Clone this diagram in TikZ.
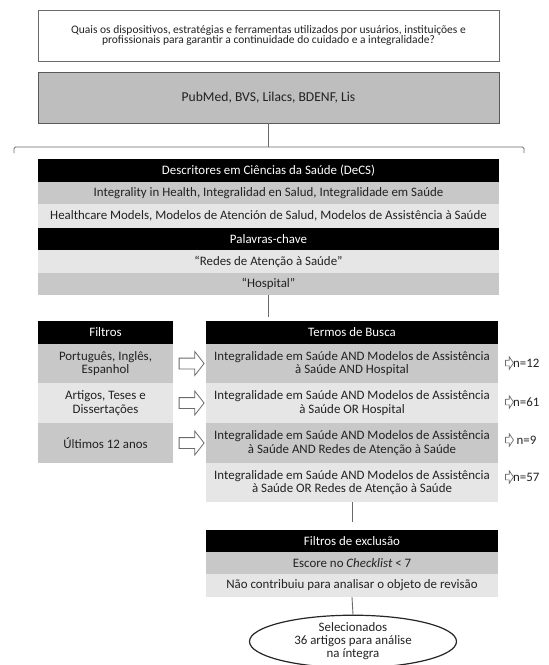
\documentclass[tikz,border=0pt]{standalone}
\usepackage{fontspec}
\setmainfont{Carlito}
\usetikzlibrary{shapes.arrows,shapes.geometric,calc}
\definecolor{midgray}{HTML}{C8C8C8}
\definecolor{litegray}{HTML}{E6E6E6}
\definecolor{linegray}{HTML}{6A6A6A}
\definecolor{txt}{HTML}{222222}
\begin{document}
\begin{tikzpicture}[x=1pt,y=-1pt,
  box/.style={rectangle, inner sep=0pt, align=center, text=txt, font=\fontsize{12.9}{13.5}\selectfont},
  hdr/.style={box, fill=black, text=white},
  midrow/.style={box, fill=midgray},
  literow/.style={box, fill=litegray},
  wide/.style={minimum width=461pt},
  filt/.style={minimum width=135pt},
  term/.style={minimum width=292pt},
  conn/.style={draw=linegray, line width=0.9pt},
  bigarrow/.style={single arrow, draw=linegray, fill=white, line width=0.8pt, inner xsep=0pt, inner ysep=5pt, minimum height=25pt, single arrow head extend=6.5pt, single arrow tip angle=104},
  smallarrow/.style={single arrow, draw=linegray, fill=white, line width=0.7pt, inner xsep=0pt, inner ysep=2.5pt, minimum height=8pt, single arrow head extend=3.5pt, single arrow tip angle=112},
  ntext/.style={anchor=west, inner sep=0pt, text=txt, font=\fontsize{12.9}{13.5}\selectfont}
]
\useasboundingbox (0,0) rectangle (549,665);

% question
\node[box, wide, draw=linegray, line width=0.9pt, fill=white, minimum height=51pt, font=\fontsize{11.5}{10.5}\selectfont] (q) at (268.5,35.5)
  {Quais os dispositivos, estratégias e ferramentas utilizados por usuários, instituições e\\profissionais para garantir a continuidade do cuidado e a integralidade?};
% databases
\node[box, wide, draw=black!65, line width=0.9pt, fill=midgray!95!black, minimum height=51pt, font=\fontsize{13.6}{15}\selectfont] (pub) at (268.5,97.5) {PubMed, BVS, Lilacs, BDENF, Lis};

% brace
\coordinate (bt) at (268.5,147);
\draw[conn] (pub.south) -- (bt);
\draw[conn, rounded corners=1.5pt] (14,153) -- (14,147) -- (524,147) -- (524,153);

% DeCS block
\node[hdr, wide, minimum height=23pt] (decs) at (268.5,170.5) {Descritores em Ciências da Saúde (DeCS)};
\node[midrow, wide, minimum height=22pt] (integ) at (268.5,193) {Integrality in Health, Integralidad en Salud, Integralidade em Saúde};
\node[literow, wide, minimum height=24pt] (hc) at (268.5,216) {Healthcare Models, Modelos de Atención de Salud, Modelos de Assistência à Saúde};
\node[hdr, wide, minimum height=22pt] (pal) at (268.5,239) {Palavras-chave};
\node[literow, wide, minimum height=23pt] (redes) at (268.5,261.5) {“Redes de Atenção à Saúde”};
\node[midrow, wide, minimum height=22pt] (hosp) at (268.5,284) {“Hospital”};
\coordinate (c1) at (268.5,317);
\draw[conn] (hosp.south) -- (c1);

% Filtros
\node[hdr, filt, minimum height=23pt] (fh) at (105.5,332.5) {Filtros};
\node[midrow, filt, minimum height=39pt] (f1) at (105.5,363.5) {Português, Inglês,\\Espanhol};
\node[literow, filt, minimum height=40pt] (f2) at (105.5,403) {Artigos, Teses e\\Dissertações};
\node[midrow, filt, minimum height=40pt] (f3) at (105.5,443) {Últimos 12 anos};

% Termos
\node[hdr, term, minimum height=23pt] (th) at (352,332.5) {Termos de Busca};
\node[midrow, term, minimum height=39pt] (t1) at (352,363.5) {Integralidade em Saúde AND Modelos de Assistência\\à Saúde AND Hospital};
\node[literow, term, minimum height=40pt] (t2) at (352,403) {Integralidade em Saúde AND Modelos de Assistência\\à Saúde OR Hospital};
\node[midrow, term, minimum height=40pt] (t3) at (352,443) {Integralidade em Saúde AND Modelos de Assistência\\à Saúde AND Redes de Atenção à Saúde};
\node[literow, term, minimum height=39pt] (t4) at (352,482.5) {Integralidade em Saúde AND Modelos de Assistência\\à Saúde OR Redes de Atenção à Saúde};

% big arrows
\node[bigarrow] (a1) at ($(f1.east)!0.5!(t1.west)$) {};
\node[bigarrow] (a2) at ($(f2.east)!0.5!(t2.west)$) {};
\node[bigarrow] (a3) at ($(f3.east)!0.5!(t3.west)$) {};

% counts
\node[ntext] (n1) at (513,363) {n=12};
\node[ntext] (n2) at (513,402) {n=61};
\node[ntext] (n3) at (516.5,440) {n=9};
\node[ntext] (n4) at (513,477) {n=57};
\node[smallarrow] (s1) at (508.5,363) {};
\node[smallarrow] (s2) at (508.5,402) {};
\node[smallarrow] (s3) at (508.5,440) {};
\node[smallarrow] (s4) at (508.5,477) {};

% exclusion
\coordinate (c2) at (352,522);
\draw[conn] (t4.south) -- (c2);
\node[hdr, term, minimum height=22pt] (ex) at (352,541) {Filtros de exclusão};
\node[midrow, term, minimum height=22pt] (esc) at (352,563) {Escore no \textit{Checklist} < 7};
\node[literow, term, minimum height=23pt] (nao) at (352,585.5) {Não contribuiu para analisar o objeto de revisão};

% result
\node[ellipse, draw=black!85, line width=1.2pt, fill=white, minimum width=207pt, minimum height=45pt, inner sep=0pt, align=center, text=txt, font=\fontsize{12.9}{13}\selectfont] (sel) at (353,641.5) {Selecionados\\36 artigos para análise\\na íntegra};
\draw[conn] (nao.south) -- (sel.north);
\end{tikzpicture}
\end{document}
